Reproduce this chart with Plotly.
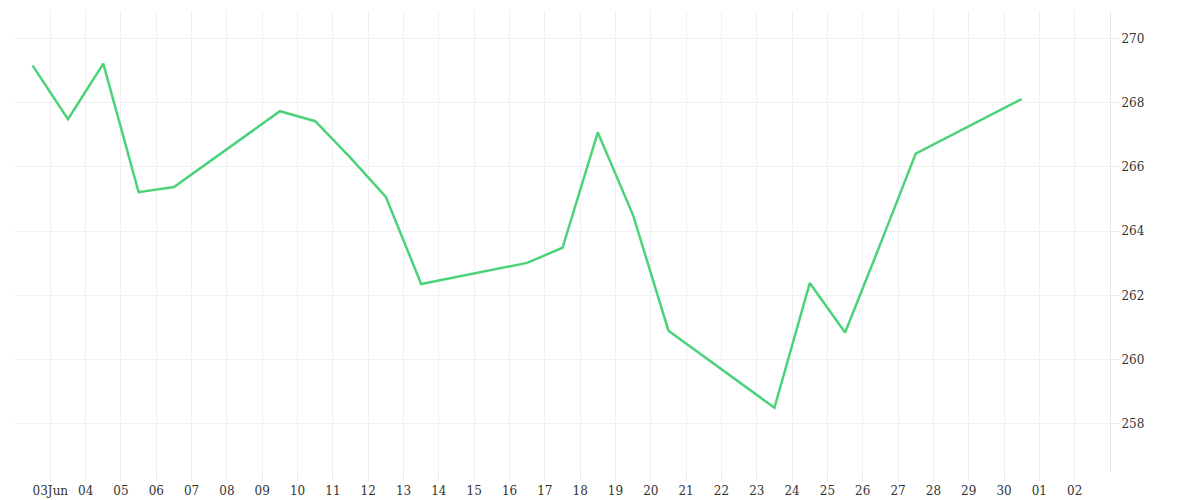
import plotly.graph_objects as go

dates = ["2024-06-02 12:00","2024-06-03 12:00","2024-06-04 12:00","2024-06-05 12:00","2024-06-06 12:00",
         "2024-06-09 12:00","2024-06-10 12:00","2024-06-11 12:00","2024-06-12 12:00","2024-06-13 12:00",
         "2024-06-16 12:00","2024-06-17 12:00","2024-06-18 12:00","2024-06-19 12:00","2024-06-20 12:00",
         "2024-06-23 12:00","2024-06-24 12:00","2024-06-25 12:00","2024-06-26 12:00","2024-06-27 12:00",
         "2024-06-30 12:00"]
values = [269.15,267.48,269.21,265.21,265.37,
          267.73,267.42,266.28,265.06,262.35,
          263.01,263.48,267.07,264.49,260.90,
          258.50,262.38,260.84,263.60,266.41,
          268.11]

tickvals = ["2024-06-%02d" % d for d in range(3, 31)] + ["2024-07-01", "2024-07-02"]
ticktext = ["03Jun"] + ["%02d" % d for d in range(4, 31)] + ["01", "02"]

fig = go.Figure(go.Scatter(x=dates, y=values, mode="lines",
                           line=dict(color="#4cd37a", width=2.5)))
fig.update_layout(
    width=1200, height=500, margin=dict(l=7, r=98, t=3, b=36),
    plot_bgcolor="white", paper_bgcolor="white", showlegend=False,
    font=dict(family="DejaVu Serif, Liberation Serif, serif", size=12, color="#333"),
)
fig.update_xaxes(type="date", range=["2024-06-02", "2024-07-03"],
                 tickvals=tickvals, ticktext=ticktext,
                 showgrid=True, gridcolor="#f0f0f0", ticks="outside", ticklen=8,
                 tickcolor="#e8e8e8", showline=False, zeroline=False)
fig.update_yaxes(side="right", range=[256.5, 270.85], dtick=2, tick0=258,
                 showgrid=True, gridcolor="#f0f0f0", ticks="outside", ticklen=8,
                 tickcolor="#e8e8e8", showline=True, linecolor="#e8e8e8", zeroline=False)
fig.write_html("out.html")
